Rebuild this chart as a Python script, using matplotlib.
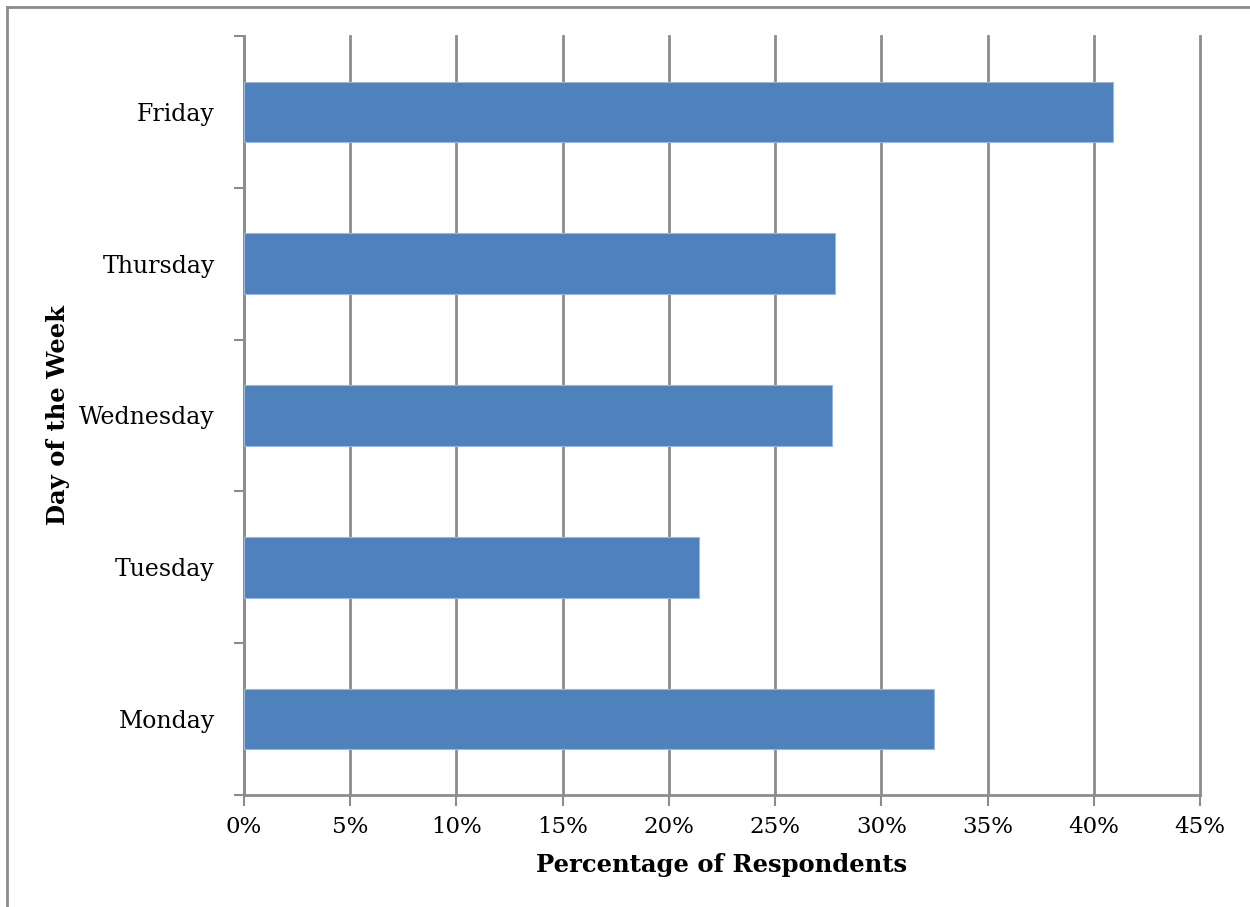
import matplotlib
matplotlib.use("Agg")
import matplotlib.pyplot as plt
from matplotlib.lines import Line2D
from matplotlib.ticker import FuncFormatter

days = ["Monday", "Tuesday", "Wednesday", "Thursday", "Friday"]
percent = [32.5, 21.4, 27.7, 27.8, 40.9]
x_ticks = [0, 5, 10, 15, 20, 25, 30, 35, 40, 45]

BAR = "#4F81BD"
GRID = "#8C8C8C"

plt.rcParams["font.family"] = ["DejaVu Serif"]

fig = plt.figure(figsize=(12.5, 9.07), dpi=100)
ax = fig.add_axes([0.1952, 0.1235, 0.7648, 0.8368])

pos = list(range(len(days)))
ax.barh(pos, percent, height=0.4, color=BAR, edgecolor="#9DB7DA", linewidth=0.8, zorder=3)

ax.set_xlim(0, 45)
ax.set_ylim(-0.5, len(days) - 0.5)
ax.set_xticks(x_ticks)
ax.xaxis.set_major_formatter(FuncFormatter(lambda v, p: f"{v:.0f}%"))

# category labels centred in bands, ticks on band boundaries
ax.set_yticks(pos)
ax.set_yticklabels(days)
ax.set_yticks([i - 0.5 for i in range(len(days) + 1)], minor=True)
ax.tick_params(axis="y", which="major", length=0, pad=21, labelsize=17)
ax.tick_params(axis="y", which="minor", length=7, width=1.5, color=GRID, direction="out")
ax.tick_params(axis="x", which="major", length=8, width=1.5, color=GRID, direction="out",
               labelsize=16.5, pad=7)

ax.grid(axis="x", color=GRID, linewidth=2, zorder=0)
for gl in ax.get_xgridlines():
    gl.set_clip_on(False)
for s in ("top", "right"):
    ax.spines[s].set_visible(False)
for s in ("left", "bottom"):
    ax.spines[s].set_color(GRID)
    ax.spines[s].set_linewidth(2)

ax.set_xlabel("Percentage of Respondents", fontsize=17.5, fontweight="bold")
ax.set_ylabel("Day of the Week", fontsize=17.5, fontweight="bold")
ax.xaxis.set_label_coords(0.5, -0.076)
ax.yaxis.set_label_coords(-0.182, 0.5)

# outer chart frame (left and top edges)
fig.add_artist(Line2D([0.0056, 0.0056], [0, 0.9923], transform=fig.transFigure, color=GRID, lw=2))
fig.add_artist(Line2D([0.0056, 1], [0.9923, 0.9923], transform=fig.transFigure, color=GRID, lw=2))

fig.savefig("out.png", dpi=100, facecolor="white")
